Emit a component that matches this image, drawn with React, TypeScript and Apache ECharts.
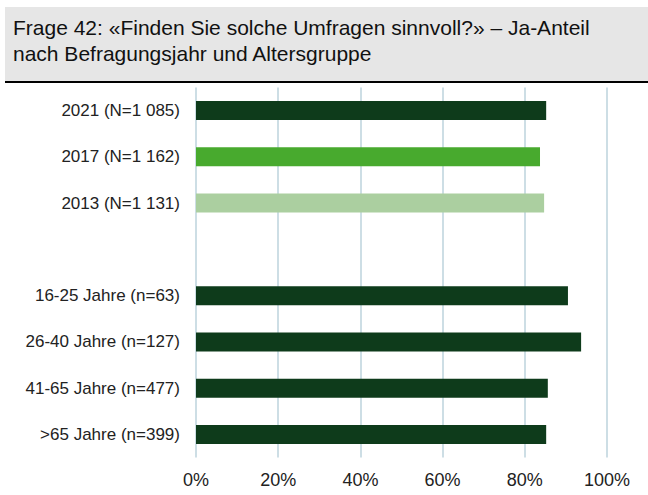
import React, { useEffect, useRef } from "react";
import * as echarts from "echarts";

const titleLines = [
  "Frage 42: «Finden Sie solche Umfragen sinnvoll?» – Ja-Anteil",
  "nach Befragungsjahr und Altersgruppe",
];
const categories = [
  "2021 (N=1 085)",
  "2017 (N=1 162)",
  "2013 (N=1 131)",
  "",
  "16-25 Jahre (n=63)",
  "26-40 Jahre (n=127)",
  "41-65 Jahre (n=477)",
  ">65 Jahre (n=399)",
];
const values: (number | null)[] = [85.2, 83.7, 84.7, null, 90.5, 93.7, 85.6, 85.2];
const barColors = ["#0e3b1b", "#48aa2e", "#abcfa0", "#0e3b1b", "#0e3b1b", "#0e3b1b", "#0e3b1b", "#0e3b1b"];

const FONT = "Liberation Sans, Arial, sans-serif";

export default function App() {
  const ref = useRef<HTMLDivElement>(null);
  useEffect(() => {
    document.body.style.margin = "0";
    const chart = echarts.init(ref.current!, null, { renderer: "svg" });
    chart.setOption({
      animation: false,
      backgroundColor: "#ffffff",
      graphic: [
        { type: "rect", shape: { x: 5, y: 7, width: 643, height: 75 }, style: { fill: "#e6e6e6" }, z: 0 },
        { type: "line", shape: { x1: 5, y1: 82, x2: 648, y2: 82 }, style: { stroke: "#000000", lineWidth: 2 }, z: 1 },
      ],
      title: {
        text: titleLines.join("\n"),
        left: 8,
        top: 9,
        textStyle: { fontFamily: FONT, fontSize: 21, fontWeight: "normal", color: "#111111", lineHeight: 26 },
      },
      grid: { left: 196, right: 41, top: 87.4, bottom: 37.4 },
      xAxis: {
        type: "value",
        min: 0,
        max: 100,
        interval: 20,
        axisLine: { show: false },
        axisTick: { show: false },
        axisLabel: { formatter: "{value}%", fontFamily: FONT, fontSize: 18, color: "#222222", margin: 13 },
        splitLine: { show: true, lineStyle: { color: "#bcd3dd", width: 1.5 } },
      },
      yAxis: {
        type: "category",
        inverse: true,
        data: categories,
        axisLine: { show: false },
        axisTick: { show: false },
        axisLabel: { fontFamily: FONT, fontSize: 17, color: "#222222", margin: 16 },
      },
      series: [
        {
          type: "bar",
          barWidth: 19,
          data: values.map((v, i) => ({ value: v, itemStyle: { color: barColors[i] } })),
        },
      ],
    });
    return () => chart.dispose();
  }, []);
  return <div ref={ref} style={{ width: 648, height: 495 }} />;
}
